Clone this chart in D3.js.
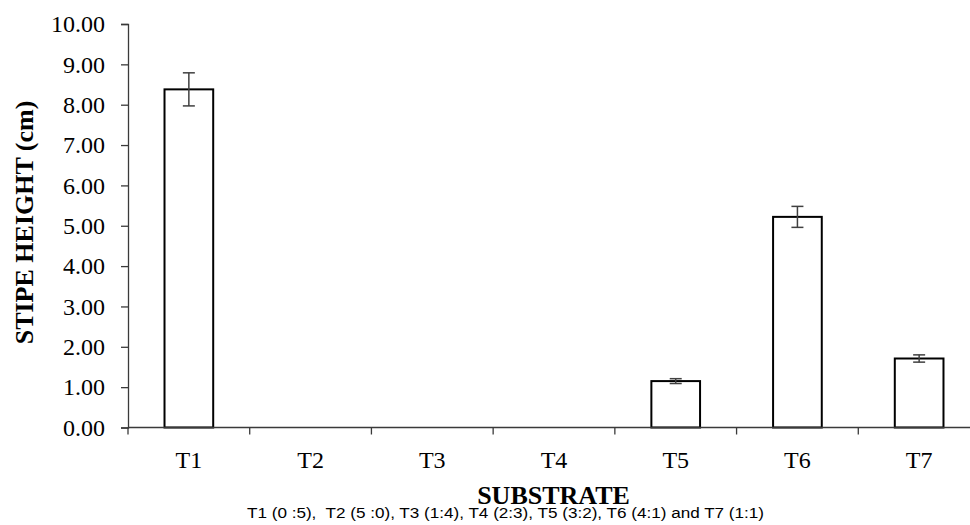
<!DOCTYPE html>
<html>
<head>
<meta charset="utf-8">
<script src="https://cdn.jsdelivr.net/npm/d3@7"></script>
<style>
  html, body { margin: 0; padding: 0; background: #fff; }
  svg { display: block; }
</style>
</head>
<body>
<svg id="chart" width="970" height="525"></svg>
<script>
// ---- data ----
const categories = ["T1", "T2", "T3", "T4", "T5", "T6", "T7"];
const values = [8.38, 0, 0, 0, 1.15, 5.22, 1.71];
const errors = [0.41, 0, 0, 0, 0.06, 0.26, 0.09];
const yTicks = [0, 1, 2, 3, 4, 5, 6, 7, 8, 9, 10];
const yTitle = "STIPE HEIGHT (cm)";
const xTitle = "SUBSTRATE";
const note = "T1 (0 :5),  T2 (5 :0), T3 (1:4), T4 (2:3), T5 (3:2), T6 (4:1) and T7 (1:1)";

(function () {
const svg = d3.select("#chart");
const mLeft = 128, mRight = 980, mTop = 24, mBottom = 427.5;
const serif = "'Liberation Serif', 'Times New Roman', serif";

const x = d3.scaleBand().domain(categories).range([mLeft, mRight]).padding(0);
const y = d3.scaleLinear().domain([0, 10]).range([mBottom, mTop]);
const barW = x.bandwidth() * 0.4;

const axisColor = "#3a3a3a";

// y axis
const yAxis = svg.append("g")
  .attr("transform", `translate(${mLeft},0)`)
  .call(d3.axisLeft(y).tickValues(yTicks).tickFormat(d3.format(".2f")).tickSize(7).tickPadding(16));
yAxis.attr("font-family", serif);
yAxis.select(".domain").attr("stroke", axisColor).attr("stroke-width", 1.3);
yAxis.selectAll(".tick line").attr("stroke", axisColor).attr("stroke-width", 1.3);
yAxis.selectAll(".tick text")
  .attr("font-family", serif)
  .attr("font-size", 24).attr("fill", "#000");

// bars
svg.append("g").selectAll("rect")
  .data(categories.map((c, i) => ({c, v: values[i], e: errors[i]})))
  .join("rect")
  .attr("x", d => x(d.c) + (x.bandwidth() - barW) / 2)
  .attr("width", barW)
  .attr("y", d => y(d.v))
  .attr("height", d => y(0) - y(d.v))
  .attr("fill", "#fff")
  .attr("stroke", "#000")
  .attr("stroke-width", 2);

// error bars
const eg = svg.append("g").attr("stroke", "#404040").attr("stroke-width", 1.5);
categories.forEach((c, i) => {
  if (errors[i] <= 0) return;
  const cx = x(c) + x.bandwidth() / 2;
  const y1 = y(values[i] + errors[i]), y2 = y(values[i] - errors[i]);
  eg.append("line").attr("x1", cx).attr("x2", cx).attr("y1", y1).attr("y2", y2);
  eg.append("line").attr("x1", cx - 6).attr("x2", cx + 6).attr("y1", y1).attr("y2", y1);
  eg.append("line").attr("x1", cx - 6).attr("x2", cx + 6).attr("y1", y2).attr("y2", y2);
});

// x axis (ticks at category boundaries)
const xg = svg.append("g");
xg.append("line")
  .attr("x1", mLeft).attr("x2", mRight).attr("y1", y(0)).attr("y2", y(0))
  .attr("stroke", axisColor).attr("stroke-width", 1.3);
const boundaries = categories.map(c => x(c)).concat([x(categories[categories.length - 1]) + x.bandwidth()]);
xg.selectAll("line.tk").data(boundaries).join("line")
  .attr("class", "tk")
  .attr("x1", d => d).attr("x2", d => d)
  .attr("y1", y(0)).attr("y2", y(0) + 7)
  .attr("stroke", axisColor).attr("stroke-width", 1.3);
xg.selectAll("text").data(categories).join("text")
  .attr("x", d => x(d) + x.bandwidth() / 2)
  .attr("y", 468)
  .attr("text-anchor", "middle")
  .attr("font-family", serif)
  .attr("font-size", 24)
  .attr("fill", "#000")
  .text(d => d);

// y title
svg.append("text")
  .attr("transform", "translate(33,222.5) rotate(-90)")
  .attr("text-anchor", "middle")
  .attr("font-family", serif)
  .attr("font-weight", "bold")
  .attr("font-size", 26)
  .attr("fill", "#000")
  .text(yTitle);

// x title
svg.append("text")
  .attr("x", 553.5).attr("y", 504)
  .attr("text-anchor", "middle")
  .attr("font-family", serif)
  .attr("font-weight", "bold")
  .attr("font-size", 26)
  .attr("fill", "#000")
  .text(xTitle);

// note
svg.append("text")
  .attr("x", 247).attr("y", 518)
  .attr("font-family", "'Liberation Sans', Arial, sans-serif")
  .attr("font-size", 14)
  .attr("fill", "#000")
  .attr("textLength", 517)
  .attr("lengthAdjust", "spacingAndGlyphs")
  .style("white-space", "pre")
  .text(note);
})();
</script>
</body>
</html>
